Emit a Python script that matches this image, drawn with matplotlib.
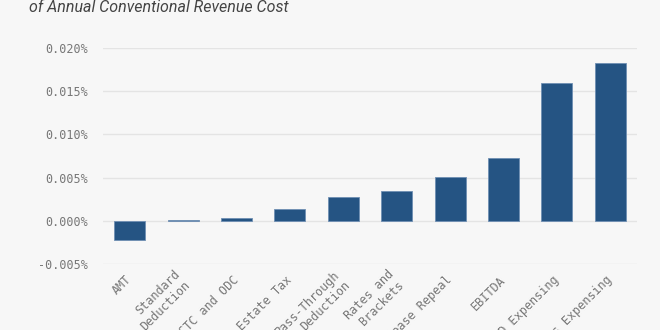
import numpy as np
import matplotlib.pyplot as plt
from matplotlib.ticker import FuncFormatter

# data (percent of annual conventional revenue cost)
provisions = ['AMT', 'Standard\nDeduction', 'CTC and ODC', 'Estate Tax',
              'Pass-Through\nDeduction', 'Rates and\nBrackets', 'Pease Repeal',
              'EBITDA', 'R&D Expensing', 'Bonus Expensing']
values = [-0.0022, 0.00006, 0.00035, 0.0014, 0.0028, 0.0034,
          0.00505, 0.0073, 0.0159, 0.0183]
yticks = [-0.005, 0.0, 0.005, 0.010, 0.015, 0.020]

bg = '#f7f7f7'
fig = plt.figure(figsize=(6.6, 3.3), dpi=100, facecolor=bg)
ax = fig.add_axes([103 / 660, 66 / 330, 534 / 660, 216 / 330], facecolor=bg)

x = np.arange(len(provisions))
ax.bar(x, values, width=0.58, color='#255483', edgecolor='#6f8fb3',
       linewidth=0.6, zorder=3)

ax.set_xlim(-0.5, len(provisions) - 0.5)
ax.set_ylim(-0.005, 0.020)
ax.set_yticks(yticks)
ax.yaxis.set_major_formatter(FuncFormatter(lambda v, p: '{:.3f}%'.format(v)))
ax.grid(axis='y', color='#e4e4e4', linewidth=1, zorder=0)
ax.set_xticks(x)
ax.set_xticklabels(provisions, rotation=45, ha='right', va='center',
                   rotation_mode='anchor', multialignment='right')

for s in ax.spines.values():
    s.set_visible(False)
ax.tick_params(length=0, colors='#777777', labelsize=8.5)
ax.tick_params(axis='y', pad=11)
ax.tick_params(axis='x', pad=10)
for lab in ax.get_xticklabels() + ax.get_yticklabels():
    lab.set_fontfamily('DejaVu Sans Mono')

fig.text(29 / 660, 1 - 8 / 330, 'of Annual Conventional Revenue Cost',
         fontsize=11.5, style='italic', family='Roboto', color='#444444',
         ha='left', va='center')

fig.savefig('out.png', dpi=100, facecolor=bg)
